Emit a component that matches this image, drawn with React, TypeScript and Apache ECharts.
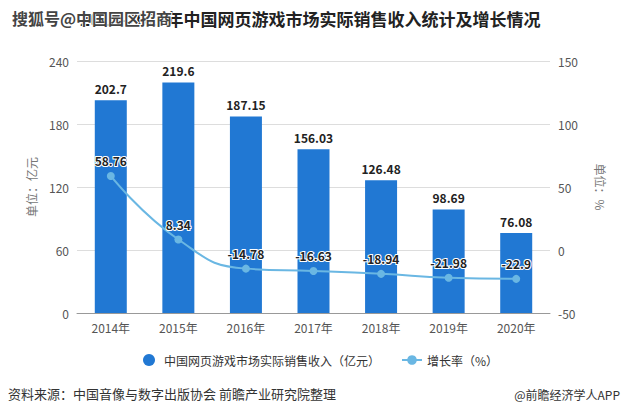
import React, { useEffect, useRef } from "react";
import * as echarts from "echarts";

const categories = ["2014年", "2015年", "2016年", "2017年", "2018年", "2019年", "2020年"];
const revenue = [202.7, 219.6, 187.15, 156.03, 126.48, 98.69, 76.08];
const growth = [58.76, 8.34, -14.78, -16.63, -18.94, -21.98, -22.9];
const leftTicks = { min: 0, max: 240, interval: 60 };
const rightTicks = { min: -50, max: 150, interval: 50 };

export default function App() {
  const ref = useRef<HTMLDivElement>(null);
  useEffect(() => {
    document.body.style.margin = "0";
    const chart = echarts.init(ref.current!, null, { renderer: "svg" });
    const font = "'Microsoft YaHei', 'Noto Sans CJK SC', sans-serif";
    chart.setOption({
      animation: false,
      backgroundColor: "#ffffff",
      textStyle: { fontFamily: font },
      graphic: [
        {
          type: "text",
          left: 80,
          top: 10,
          style: {
            text: "2014-2020年中国网页游戏市场实际销售收入统计及增长情况",
            font: "bold 17px " + font,
            fill: "#222",
          },
        },
        {
          type: "text",
          left: 11,
          top: 9,
          style: {
            text: "搜狐号@中国园区招商",
            font: "bold 16px " + font,
            fill: "#444",
            stroke: "#fff",
            lineWidth: 2,
          },
        },
        {
          type: "text",
          left: 8,
          top: 387,
          style: {
            text: "资料来源：中国音像与数字出版协会 前瞻产业研究院整理",
            font: "13px " + font,
            fill: "#333",
          },
        },
        {
          type: "text",
          right: 4,
          top: 388,
          style: {
            text: "@前瞻经济学人APP",
            font: "12px " + font,
            fill: "#333",
          },
        },
      ],
      legend: {
        top: 349,
        left: 138,
        itemGap: 21,
        itemWidth: 20,
        itemHeight: 12,
        textStyle: { fontSize: 12, color: "#333", fontFamily: font },
        data: [
          { name: "中国网页游戏市场实际销售收入（亿元）", icon: "circle" },
          { name: "增长率（%）" },
        ],
      },
      grid: { left: 77, right: 74, top: 61, bottom: 103 },
      xAxis: {
        type: "category",
        data: categories,
        axisLine: { lineStyle: { color: "#999" } },
        axisTick: { alignWithLabel: true, lineStyle: { color: "#999" } },
        axisLabel: { color: "#555", fontSize: 12, margin: 8 },
      },
      yAxis: [
        {
          type: "value",
          ...leftTicks,
          name: "单位：亿元",
          nameLocation: "middle",
          nameGap: 40,
          nameRotate: 90,
          nameTextStyle: { color: "#777", fontSize: 12 },
          axisLine: { show: false },
          axisTick: { show: false },
          axisLabel: { color: "#555", fontSize: 12 },
          splitLine: { lineStyle: { color: "#ddd" } },
        },
        {
          type: "value",
          ...rightTicks,
          name: "单位：%",
          nameLocation: "middle",
          nameGap: 44,
          nameRotate: -90,
          nameTextStyle: { color: "#777", fontSize: 12 },
          axisLine: { show: false },
          axisTick: { show: false },
          axisLabel: { color: "#555", fontSize: 12 },
          splitLine: { show: false },
        },
      ],
      series: [
        {
          name: "中国网页游戏市场实际销售收入（亿元）",
          type: "bar",
          data: revenue,
          barWidth: 32,
          itemStyle: { color: "#2178d3" },
          label: {
            show: true,
            position: "top",
            color: "#222",
            fontWeight: "bold",
            fontSize: 12,
            distance: 6,
          },
        },
        {
          name: "增长率（%）",
          type: "line",
          yAxisIndex: 1,
          data: growth,
          smooth: true,
          symbol: "circle",
          symbolSize: 8,
          lineStyle: { color: "#6ab7e3", width: 2 },
          itemStyle: { color: "#6ab7e3" },
          label: {
            show: true,
            position: "top",
            color: "#222",
            fontWeight: "bold",
            fontSize: 12,
            textBorderColor: "#fff",
            textBorderWidth: 2,
            distance: 5,
          },
        },
      ],
    });
    return () => chart.dispose();
  }, []);
  return <div ref={ref} style={{ width: 624, height: 416 }} />;
}
